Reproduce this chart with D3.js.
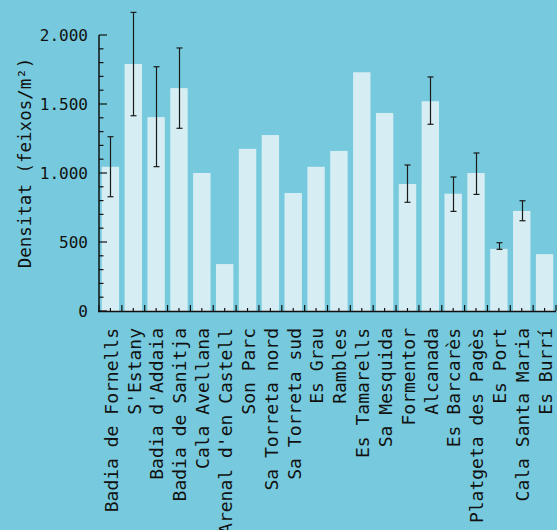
<!DOCTYPE html>
<html><head><meta charset="utf-8">
<script src="https://cdn.jsdelivr.net/npm/d3@7"></script>
<style>
html,body{margin:0;padding:0;background:#77cadd;}
svg{display:block;}
text{font-family:"DejaVu Sans Mono",monospace;fill:#111;}
</style></head>
<body>
<svg id="chart" width="557" height="530"></svg>
<script>
const categories = ["Badia de Fornells","S'Estany","Badia d'Addaia","Badia de Sanitja","Cala Avellana","Arenal d'en Castell","Son Parc","Sa Torreta nord","Sa Torreta sud","Es Grau","Rambles","Es Tamarells","Sa Mesquida","Formentor","Alcanada","Es Barcarès","Platgeta des Pagès","Es Port","Cala Santa Maria","Es Burrí"];
const values = [1045,1790,1405,1615,1000,340,1175,1275,855,1045,1160,1730,1435,920,1520,850,1000,450,725,412];
const errLow = [828,1415,1046,1324,null,null,null,null,null,null,null,null,null,788,1353,722,845,447,654,null];
const errHigh = [1263,2164,1770,1906,null,null,null,null,null,null,null,null,null,1058,1696,971,1145,495,799,null];
const yTicks = [0,500,1000,1500,2000];
const yLabel = "Densitat (feixos/m²)";

const svg = d3.select("#chart");
const x0 = 99, x1 = 556, yBase = 311, yTop = 35;
const x = d3.scaleBand().domain(categories).range([x0, x1]).paddingInner(0.24).paddingOuter(0.12);
const y = d3.scaleLinear().domain([0, 2000]).range([yBase, yTop]);
const loc = d3.formatLocale({decimal: ",", thousands: ".", grouping: [3], currency: ["", ""]});
const fmt = loc.format(",d");

// bars
svg.append("g").selectAll("rect").data(categories).join("rect")
  .attr("x", d => x(d)).attr("width", x.bandwidth())
  .attr("y", (d,i) => y(values[i])).attr("height", (d,i) => yBase - y(values[i]))
  .attr("fill", "#d6eef3");

// error bars
const eg = svg.append("g").attr("stroke", "#1a1a1a").attr("stroke-width", 1.2);
categories.forEach((c, i) => {
  if (errLow[i] == null) return;
  const cx = Math.round(x(c) + x.bandwidth()/2) + 0.5;
  eg.append("line").attr("x1", cx).attr("x2", cx).attr("y1", y(errLow[i])).attr("y2", y(errHigh[i]));
  [errLow[i], errHigh[i]].forEach(v => {
    eg.append("line").attr("x1", cx-3).attr("x2", cx+3).attr("y1", y(v)).attr("y2", y(v));
  });
});

// y axis
const ya = svg.append("g");
ya.append("line").attr("x1", x0).attr("x2", x0).attr("y1", yTop).attr("y2", yBase+1).attr("stroke", "#111").attr("stroke-width", 1.5);
d3.range(0, 2001, 100).forEach(v => {
  const major = v % 500 === 0;
  ya.append("line").attr("x1", x0).attr("x2", x0 + (major ? 8 : 4.5))
    .attr("y1", y(v)).attr("y2", y(v)).attr("stroke", "#111").attr("stroke-width", 1.2);
});
ya.selectAll("text").data(yTicks).join("text")
  .attr("x", 88).attr("y", d => y(d)).attr("dy", "0.35em")
  .attr("text-anchor", "end").attr("font-size", 16).text(d => fmt(d));

// x axis
const xa = svg.append("g");
xa.append("line").attr("x1", x0-1).attr("x2", x1).attr("y1", yBase+0.5).attr("y2", yBase+0.5).attr("stroke", "#111").attr("stroke-width", 1.6);
const step = x.step();
const bounds = d3.range(categories.length + 1).map(i => x0 + i*step);
xa.selectAll("line.b").data(bounds).join("line").attr("class","b")
  .attr("x1", d => d).attr("x2", d => d).attr("y1", yBase-6).attr("y2", yBase)
  .attr("stroke", "#111").attr("stroke-width", 1.2);
xa.selectAll("line.c").data(categories).join("line").attr("class","c")
  .attr("x1", d => x(d)+x.bandwidth()/2).attr("x2", d => x(d)+x.bandwidth()/2)
  .attr("y1", yBase-3).attr("y2", yBase).attr("stroke", "#111").attr("stroke-width", 1.2);
xa.selectAll("text").data(categories).join("text")
  .attr("transform", d => `translate(${x(d)+x.bandwidth()/2+1},${yBase+17}) rotate(-90)`)
  .attr("dy", "0.35em").attr("text-anchor", "end").attr("font-size", 18).text(d => d);

// y label
svg.append("text").attr("transform", `translate(25,163) rotate(-90)`)
  .attr("dy", "0.35em").attr("text-anchor", "middle").attr("font-size", 17.5).text(yLabel);
</script>
</body></html>
